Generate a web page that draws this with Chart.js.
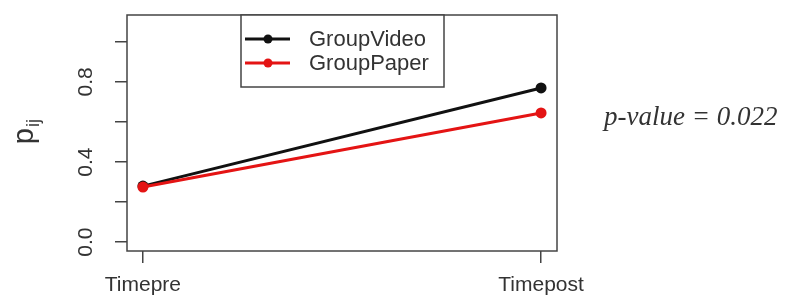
<!DOCTYPE html>
<html>
<head>
<meta charset="utf-8">
<script src="https://cdn.jsdelivr.net/npm/chart.js@4.4.1/dist/chart.umd.min.js"></script>
<style>
  html, body { margin: 0; padding: 0; background: #fff; }
  #wrap { width: 790px; height: 298px; }
</style>
</head>
<body>
<div id="wrap"><canvas id="chart" width="790" height="298"></canvas></div>
<script>
// chart data
const timeLabels = ['Timepre', 'Timepost'];
const timePositions = [1, 2];
const groupVideo = [0.28, 0.77];
const groupPaper = [0.275, 0.645];
const yTicks = [0, 0.2, 0.4, 0.6, 0.8, 1.0];
const yTickLabels = ['0.0', '', '0.4', '', '0.8', ''];
const pValueText = 'p-value = 0.022';

const axisColor = '#444';

// frame, rotated y labels, legend and annotation drawn R-style
const rStyle = {
    id: 'rStyle',
    afterDraw(chart) {
        const ctx = chart.ctx;
        const area = chart.chartArea;
        const y = chart.scales.y;
        ctx.save();

        // box round the plot
        ctx.strokeStyle = axisColor;
        ctx.lineWidth = 1.5;
        ctx.strokeRect(area.left, area.top, area.right - area.left, area.bottom - area.top);

        // vertical tick labels
        ctx.fillStyle = '#333';
        ctx.font = '21px "Liberation Sans", Arial, sans-serif';
        ctx.textAlign = 'center';
        ctx.textBaseline = 'middle';
        yTicks.forEach((v, i) => {
            if (!yTickLabels[i]) return;
            ctx.save();
            ctx.translate(86, y.getPixelForValue(v));
            ctx.rotate(-Math.PI / 2);
            ctx.fillText(yTickLabels[i], 0, 0);
            ctx.restore();
        });

        // axis title p_ij
        ctx.save();
        ctx.translate(33, 128);
        ctx.rotate(-Math.PI / 2);
        ctx.font = '29px "Liberation Sans", Arial, sans-serif';
        ctx.textAlign = 'right';
        ctx.textBaseline = 'alphabetic';
        ctx.fillText('p', 0, 0);
        ctx.font = '18px "Liberation Sans", Arial, sans-serif';
        ctx.textAlign = 'left';
        ctx.fillText('ij', 1, 6);
        ctx.restore();

        // legend
        const lx = 241, ly = 15, lw = 203, lh = 72;
        ctx.fillStyle = '#fff';
        ctx.fillRect(lx, ly, lw, lh);
        ctx.strokeStyle = axisColor;
        ctx.lineWidth = 1.5;
        ctx.strokeRect(lx, ly, lw, lh);
        chart.data.datasets.forEach((ds, i) => {
            const yy = ly + 24 + i * 24;
            ctx.strokeStyle = ds.borderColor;
            ctx.lineWidth = 3;
            ctx.beginPath();
            ctx.moveTo(lx + 4, yy);
            ctx.lineTo(lx + 49, yy);
            ctx.stroke();
            ctx.fillStyle = ds.backgroundColor;
            ctx.beginPath();
            ctx.arc(lx + 27, yy, 4.5, 0, Math.PI * 2);
            ctx.fill();
            ctx.fillStyle = '#333';
            ctx.font = '22px "Liberation Sans", Arial, sans-serif';
            ctx.textAlign = 'left';
            ctx.textBaseline = 'middle';
            ctx.fillText(ds.label, lx + 68, yy + 1);
        });

        // p-value note
        ctx.fillStyle = '#333';
        ctx.font = 'italic 27px "Liberation Serif", "DejaVu Serif", serif';
        ctx.textAlign = 'left';
        ctx.textBaseline = 'middle';
        ctx.fillText(pValueText, 604, 118);

        ctx.restore();
    }
};

const ctx = document.getElementById('chart').getContext('2d');
new Chart(ctx, {
    type: 'line',
    data: {
        datasets: [{
            label: 'GroupVideo',
            data: timePositions.map((x, i) => ({ x: x, y: groupVideo[i] })),
            borderColor: '#111',
            backgroundColor: '#111',
            borderWidth: 3,
            pointRadius: 5.5,
            pointBorderWidth: 0,
            order: 2
        }, {
            label: 'GroupPaper',
            data: timePositions.map((x, i) => ({ x: x, y: groupPaper[i] })),
            borderColor: '#e41414',
            backgroundColor: '#e41414',
            borderWidth: 3,
            pointRadius: 5.5,
            pointBorderWidth: 0,
            order: 1
        }]
    },
    options: {
        responsive: false,
        animation: false,
        layout: { padding: { left: 0, right: 233, top: 15, bottom: 0 } },
        plugins: {
            legend: { display: false },
            tooltip: { enabled: false }
        },
        scales: {
            x: {
                type: 'linear',
                min: 0.96,
                max: 2.04,
                afterBuildTicks: s => { s.ticks = timePositions.map(v => ({ value: v })); },
                afterFit: s => { s.height = 47; },
                border: { display: false },
                grid: { drawOnChartArea: false, drawTicks: true, tickLength: 12, color: axisColor, lineWidth: 1.5 },
                ticks: {
                    color: '#333',
                    padding: 10,
                    maxRotation: 0,
                    font: { family: '"Liberation Sans", Arial, sans-serif', size: 21 },
                    callback: v => timeLabels[timePositions.indexOf(v)]
                }
            },
            y: {
                min: -0.044,
                max: 1.134,
                afterBuildTicks: s => { s.ticks = yTicks.map(v => ({ value: v })); },
                afterFit: s => { s.width = 127; },
                border: { display: false },
                grid: { drawOnChartArea: false, drawTicks: true, tickLength: 12, color: axisColor, lineWidth: 1.5 },
                ticks: { display: false }
            }
        }
    },
    plugins: [rStyle]
});
</script>
</body>
</html>
